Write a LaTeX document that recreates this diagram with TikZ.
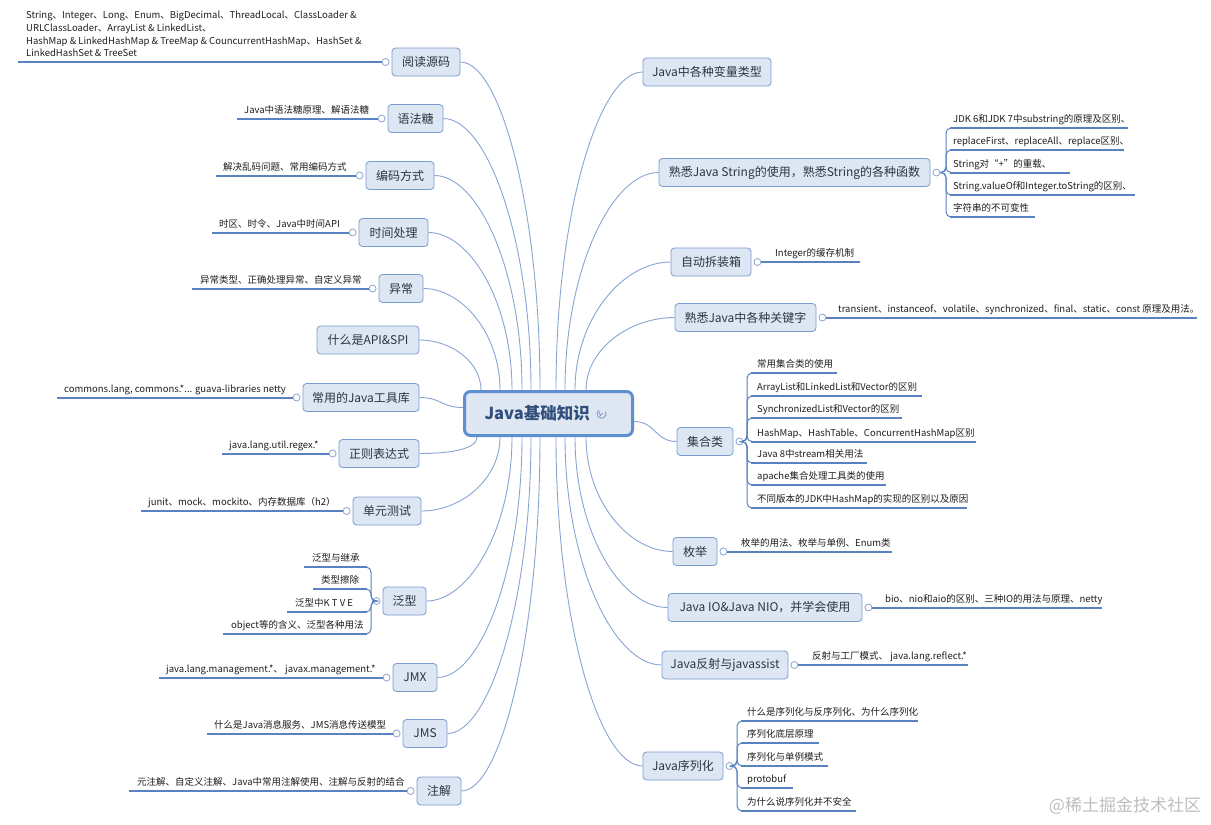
\documentclass[tikz,border=0pt]{standalone}
\usepackage{fontspec}
\setmainfont{Noto Sans CJK SC}
\usetikzlibrary{calc,backgrounds}
\definecolor{bfill}{RGB}{221,231,244}
\definecolor{bbord}{RGB}{122,156,206}
\definecolor{btext}{RGB}{45,52,66}
\definecolor{rbord}{RGB}{95,143,211}
\definecolor{rfill}{RGB}{223,231,243}
\definecolor{rtext}{RGB}{48,78,122}
\definecolor{ccol}{RGB}{136,165,210}
\definecolor{ucol}{RGB}{88,130,192}
\definecolor{ltext}{RGB}{30,30,30}
\definecolor{wmark}{RGB}{190,190,190}
\begin{document}
\begin{tikzpicture}[x=1pt,y=-1pt,
 branch/.style={draw=bbord, fill=bfill, rounded corners=3.5pt, line width=0.8pt, text=btext,
   font=\fontsize{12}{14}\selectfont, minimum height=28pt, inner xsep=4pt, inner ysep=0pt},
 rootbox/.style={draw=rbord, fill=rfill, rounded corners=6pt, line width=3pt,
   minimum width=168pt, minimum height=44pt, inner sep=0pt},
 roottext/.style={text=rtext, font=\fontsize{16.5}{19}\selectfont\bfseries, inner sep=0pt},
 knob/.style={circle, draw=ccol, fill=white, line width=0.8pt, minimum size=7pt, inner sep=0pt},
 leaf/.style={anchor=base west, inner sep=0pt, font=\fontsize{9.5}{11}\selectfont, text=ltext},
 uline/.style={draw=ucol, line width=2pt},
 bline/.style={draw=ucol, line width=1pt, rounded corners=5pt},
 conn/.style={draw=ccol, line width=0.9pt},
 icon/.style={draw=ccol, line width=1pt},
]
\useasboundingbox (0,0) rectangle (1211,825);

% ---------- root ----------
\node[rootbox] (root) at (548.5,413.5) {};
\node[roottext, anchor=east] (rootlabel) at ($(root.center)+(41.5,0)$) {Java基础知识};
\draw[icon] ($(root.center)+(57,-2)$) arc[start angle=-30, end angle=230, radius=4.5];
\draw[icon] ($(root.center)+(50.5,-2)$) -- ++(1.5,4) -- ++(2.5,-2.5);

% ---------- left branches ----------
\node[branch, minimum width=68pt] (L1) at (426,62) {阅读源码};
\node[branch, minimum width=55pt] (L2) at (415.5,118.5) {语法糖};
\node[branch, minimum width=68pt] (L3) at (400,175.5) {编码方式};
\node[branch, minimum width=69pt] (L4) at (393.5,232.5) {时间处理};
\node[branch, minimum width=44pt] (L5) at (401,288.5) {异常};
\node[branch, minimum width=102pt] (L6) at (368,340) {什么是API\&SPI};
\node[branch, minimum width=116pt] (L7) at (361,397.5) {常用的Java工具库};
\node[branch, minimum width=80pt] (L8) at (379,453.5) {正则表达式};
\node[branch, minimum width=68pt] (L9) at (387,511) {单元测试};
\node[branch, minimum width=43pt] (L10) at (404.5,601) {泛型};
\node[branch, minimum width=44pt] (L11) at (415,677.5) {JMX};
\node[branch, minimum width=44pt] (L12) at (425,733.5) {JMS};
\node[branch, minimum width=44pt] (L13) at (439,791) {注解};

% ---------- right branches ----------
\node[branch, minimum width=128pt] (R1) at (707,72) {Java中各种变量类型};
\node[branch, minimum width=271pt] (R2) at (794.5,172.5) {熟悉Java String的使用，熟悉String的各种函数};
\node[branch, minimum width=80pt] (R3) at (711,262) {自动拆装箱};
\node[branch, minimum width=141pt] (R4) at (745.5,317.5) {熟悉Java中各种关键字};
\node[branch, minimum width=56pt] (R5) at (705,441.5) {集合类};
\node[branch, minimum width=44pt] (R6) at (695,551.5) {枚举};
\node[branch, minimum width=194pt] (R7) at (765,607.5) {Java IO\&Java NIO，并学会使用};
\node[branch, minimum width=126pt] (R8) at (725,665) {Java反射与javassist};
\node[branch, minimum width=80pt] (R9) at (683,766) {Java序列化};

% ---------- main connectors ----------
\begin{pgfonlayer}{background}
\fill[white] (0,0) rectangle (1211,825);
\draw[conn] (L1.east) .. controls +(40,0) and +(0,-181) .. ($(root.north)+(-8.5,0)$);
\draw[conn] (L2.east) .. controls +(44,0) and +(0,-150) .. ($(root.north)+(-17.5,0)$);
\draw[conn] (L3.east) .. controls +(44,0) and +(0,-119) .. ($(root.north)+(-26.5,0)$);
\draw[conn] (L4.east) .. controls +(42,0) and +(0,-87) .. ($(root.north)+(-36.5,0)$);
\draw[conn] (L5.east) .. controls +(38,0) and +(0,-57) .. ($(root.north)+(-48.5,0)$);
\draw[conn] (L6.east) .. controls +(32,0) and +(0,-28) .. ($(root.north west)+(18,0)$);
\draw[conn] (L7.east) .. controls +(22,0) and +(-22,0) .. ($(root.west)+(0,-6)$);
\draw[conn] (L8.east) .. controls +(32,0) and +(0,12) .. ($(root.south west)+(14,0)$);
\draw[conn] (L9.east) .. controls +(40,0) and +(0,42) .. ($(root.south)+(-48.5,0)$);
\draw[conn] (L10.east) .. controls +(43,0) and +(0,91) .. ($(root.south)+(-36.5,0)$);
\draw[conn] (L11.east) .. controls +(43,0) and +(0,133) .. ($(root.south)+(-26.5,0)$);
\draw[conn] (L12.east) .. controls +(42,0) and +(0,164) .. ($(root.south)+(-17.5,0)$);
\draw[conn] (L13.east) .. controls +(40,0) and +(0,196) .. ($(root.south)+(-8.5,0)$);
\draw[conn] (R1.west) .. controls +(-44,0) and +(0,-176) .. ($(root.north)+(7.5,0)$);
\draw[conn] (R2.west) .. controls +(-47,0) and +(0,-120) .. ($(root.north)+(16.5,0)$);
\draw[conn] (R3.west) .. controls +(-48,0) and +(0,-71) .. ($(root.north)+(26.5,0)$);
\draw[conn] (R4.west) .. controls +(-45,0) and +(0,-41) .. ($(root.north)+(37.5,0)$);
\draw[conn] (R5.west) .. controls +(-22,0) and +(22,0) .. ($(root.east)+(0,8)$);
\draw[conn] (R6.west) .. controls +(-44,0) and +(0,64) .. ($(root.south)+(37.5,0)$);
\draw[conn] (R7.west) .. controls +(-47,0) and +(0,95) .. ($(root.south)+(26.5,0)$);
\draw[conn] (R8.west) .. controls +(-48,0) and +(0,126) .. ($(root.south)+(16.5,0)$);
\draw[conn] (R9.west) .. controls +(-44,0) and +(0,182) .. ($(root.south)+(7.5,0)$);
\end{pgfonlayer}

% ---------- left leaves ----------
\node[knob] (kL1) at ($(L1.west)+(-6,0)$) {};
\coordinate (sL1) at (18,62);
\draw[uline] (sL1) -- (kL1.west);
\node[leaf, anchor=north west, align=left, font=\fontsize{9.5}{12.7}\selectfont] (tL1) at (26,11)
 {String、Integer、Long、Enum、BigDecimal、ThreadLocal、ClassLoader \&\\
  URLClassLoader、ArrayList \& LinkedList、\\
  HashMap \& LinkedHashMap \& TreeMap \& CouncurrentHashMap、HashSet \&\\
  LinkedHashSet \& TreeSet};

\node[knob] (kL2) at ($(L2.west)+(-6,0)$) {};
\coordinate (sL2) at (237,118.5);
\draw[uline] (sL2) -- (kL2.west);
\node[leaf] (tL2) at (244,113) {Java中语法糖原理、解语法糖};

\node[knob] (kL3) at ($(L3.west)+(-6,0)$) {};
\coordinate (sL3) at (216,175.5);
\draw[uline] (sL3) -- (kL3.west);
\node[leaf] (tL3) at (223,170) {解决乱码问题、常用编码方式};

\node[knob] (kL4) at ($(L4.west)+(-6,0)$) {};
\coordinate (sL4) at (212,232.5);
\draw[uline] (sL4) -- (kL4.west);
\node[leaf] (tL4) at (219,227) {时区、时令、Java中时间API};

\node[knob] (kL5) at ($(L5.west)+(-6,0)$) {};
\coordinate (sL5) at (192,288.5);
\draw[uline] (sL5) -- (kL5.west);
\node[leaf] (tL5) at (200,283) {异常类型、正确处理异常、自定义异常};

\node[knob] (kL7) at ($(L7.west)+(-6,0)$) {};
\coordinate (sL7) at (57,397.5);
\draw[uline] (sL7) -- (kL7.west);
\node[leaf] (tL7) at (64,392) {commons.lang, commons.*... guava-libraries netty};

\node[knob] (kL8) at ($(L8.west)+(-6,0)$) {};
\coordinate (sL8) at (222,453.5);
\draw[uline] (sL8) -- (kL8.west);
\node[leaf] (tL8) at (229,448) {java.lang.util.regex.*};

\node[knob] (kL9) at ($(L9.west)+(-6,0)$) {};
\coordinate (sL9) at (141,511);
\draw[uline] (sL9) -- (kL9.west);
\node[leaf] (tL9) at (148,505.5) {junit、mock、mockito、内存数据库（h2）};

\node[knob] (kL10) at ($(L10.west)+(-6,0)$) {};
\foreach \y/\s/\t [count=\i] in {567/304/泛型与继承, 589/313/类型擦除, 612/287/泛型中K T V E, 634/223/object等的含义、泛型各种用法}{
  \coordinate (eL10\i) at (\s,\y);
  \draw[bline] (kL10.west) -- (371,601) -- (371,\y) -- (363,\y);
  \draw[uline] (eL10\i) -- (367,\y);
  \node[leaf] (tL10\i) at (\s+8,\y-5.5) {\t};
}

\node[knob] (kL11) at ($(L11.west)+(-6,0)$) {};
\coordinate (sL11) at (159,677.5);
\draw[uline] (sL11) -- (kL11.west);
\node[leaf] (tL11) at (166,672) {java.lang.management.*、 javax.management.*};

\node[knob] (kL12) at ($(L12.west)+(-6,0)$) {};
\coordinate (sL12) at (207,733.5);
\draw[uline] (sL12) -- (kL12.west);
\node[leaf] (tL12) at (214,728) {什么是Java消息服务、JMS消息传送模型};

\node[knob] (kL13) at ($(L13.west)+(-6,0)$) {};
\coordinate (sL13) at (129,791);
\draw[uline] (sL13) -- (kL13.west);
\node[leaf] (tL13) at (137,785.5) {元注解、自定义注解、Java中常用注解使用、注解与反射的结合};

% ---------- right leaves ----------
\node[knob] (kR2) at ($(R2.east)+(6,0)$) {};
\foreach \y/\e/\t [count=\i] in {128/1128/JDK 6和JDK 7中substring的原理及区别、, 150/1124/replaceFirst、replaceAll、replace区别、, 172.5/1070/String对“+”的重载、, 195/1135/String.valueOf和Integer.toString的区别、, 217/1035/字符串的不可变性}{
  \coordinate (eR2\i) at (\e,\y);
  \draw[bline] (kR2.east) -- (946,172.5) -- (946,\y) -- (954,\y);
  \draw[uline] (950,\y) -- (eR2\i);
  \node[leaf] (tR2\i) at (953,\y-5.5) {\t};
}

\node[knob] (kR3) at ($(R3.east)+(6,0)$) {};
\coordinate (eR3) at (860,262);
\draw[uline] (kR3.east) -- (eR3);
\node[leaf] (tR3) at (775,256.5) {Integer的缓存机制};

\node[knob] (kR4) at ($(R4.east)+(6,0)$) {};
\coordinate (eR4) at (1197,317.5);
\draw[uline] (kR4.east) -- (eR4);
\node[leaf] (tR4) at (838,312) {transient、instanceof、volatile、synchronized、final、static、const 原理及用法。};

\node[knob] (kR5) at ($(R5.east)+(6,0)$) {};
\foreach \y/\e/\t [count=\i] in {373/837/常用集合类的使用, 396/922/ArrayList和LinkedList和Vector的区别, 418/902/SynchronizedList和Vector的区别, 441.5/976/HashMap、HashTable、ConcurrentHashMap区别, 463/867/Java 8中stream相关用法, 485/886/apache集合处理工具类的使用, 508/967/不同版本的JDK中HashMap的实现的区别以及原因}{
  \coordinate (eR5\i) at (\e,\y);
  \draw[bline] (kR5.east) -- (747,441.5) -- (747,\y) -- (755,\y);
  \draw[uline] (751,\y) -- (eR5\i);
  \node[leaf] (tR5\i) at (757,\y-5.5) {\t};
}

\node[knob] (kR6) at ($(R6.east)+(6,0)$) {};
\coordinate (eR6) at (892,551.5);
\draw[uline] (kR6.east) -- (eR6);
\node[leaf] (tR6) at (741,546) {枚举的用法、枚举与单例、Enum类};

\node[knob] (kR7) at ($(R7.east)+(6,0)$) {};
\coordinate (eR7) at (1102,607.5);
\draw[uline] (kR7.east) -- (eR7);
\node[leaf] (tR7) at (885,602) {bio、nio和aio的区别、三种IO的用法与原理、netty};

\node[knob] (kR8) at ($(R8.east)+(6,0)$) {};
\coordinate (eR8) at (968,665);
\draw[uline] (kR8.east) -- (eR8);
\node[leaf] (tR8) at (812,659.5) {反射与工厂模式、 java.lang.reflect.*};

\node[knob] (kR9) at ($(R9.east)+(6,0)$) {};
\foreach \y/\e/\t [count=\i] in {721/918/什么是序列化与反序列化、为什么序列化, 743/819/序列化底层原理, 766/828/序列化与单例模式, 788/793/protobuf, 811/856/为什么说序列化并不安全}{
  \coordinate (eR9\i) at (\e,\y);
  \draw[bline] (kR9.east) -- (737,766) -- (737,\y) -- (745,\y);
  \draw[uline] (741,\y) -- (eR9\i);
  \node[leaf] (tR9\i) at (747,\y-5.5) {\t};
}

% ---------- watermark ----------
\node[text=wmark, font=\fontsize{17}{19}\selectfont, inner sep=0pt] (wm) at (1125,806) {@稀土掘金技术社区};
\end{tikzpicture}
\end{document}
